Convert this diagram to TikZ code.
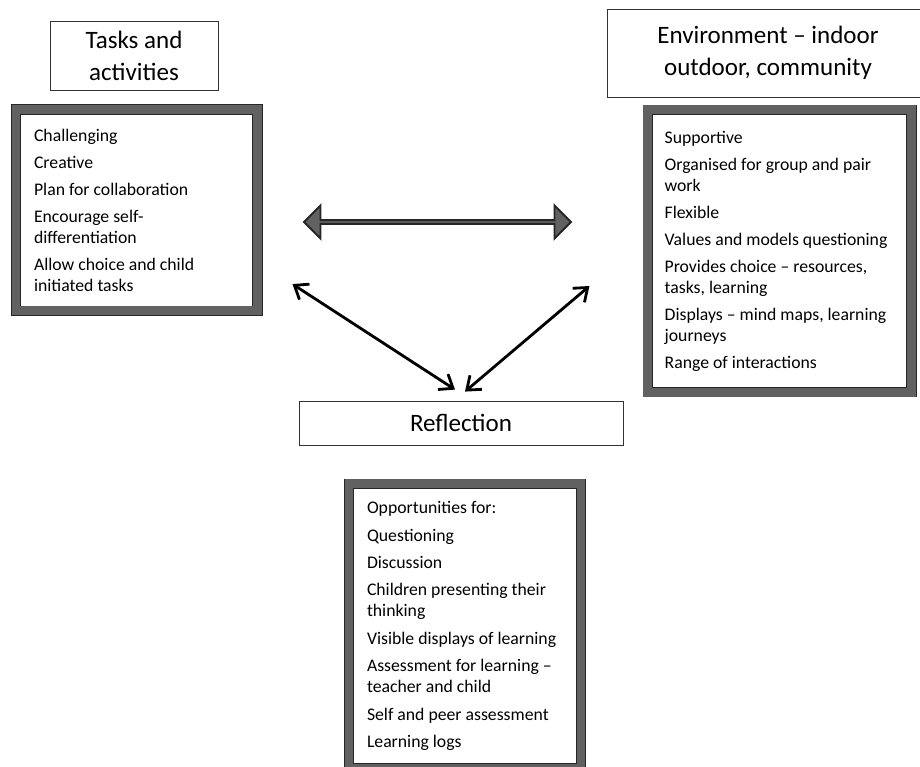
\documentclass[tikz,border=0pt]{standalone}
\usepackage{fontspec}
\setmainfont{Carlito}
\usetikzlibrary{arrows.meta,positioning,shapes.arrows,calc}

\begin{document}
\begin{tikzpicture}[
    font=\fontsize{12.6}{14.9}\selectfont,
    titlebox/.style={
      draw=black!80, line width=0.6pt, align=center, inner sep=2pt,
      font=\fontsize{17.8}{22.8}\selectfont
    },
    framebox/.style={
      draw=black!85, line width=0.6pt, double=black!62, double distance=0.22cm,
      fill=white, align=flush left, inner xsep=0.45cm, inner ysep=0pt
    },
    arr/.style={{Straight Barb[length=3mm,width=4.6mm]}-{Straight Barb[length=3mm,width=4.6mm]},
      line width=2pt}
  ]
    \useasboundingbox (0,0) rectangle (23,-19.175);

    \node[titlebox, minimum width=4.2cm, minimum height=1.725cm] (tasks) at (3.35,-1.3875)
      {Tasks and\\activities};
    \node[titlebox, minimum width=8.05cm, minimum height=2.2cm] (env) at (19.2,-1.325)
      {Environment -- indoor\\outdoor, community};
    \node[titlebox, minimum width=8.1cm, minimum height=1.1cm] (refl) at (11.525,-10.575)
      {Reflection};

    \node[framebox, text width=5.1375cm, minimum height=5.0375cm,
      below=0.4625cm of tasks, xshift=0.07cm] (tasklist)
      {Challenging\\[4.3pt]
       Creative\\[4.3pt]
       Plan for collaboration\\[4.3pt]
       Encourage self-\\differentiation\\[4.3pt]
       Allow choice and child\\initiated tasks};
    \node[framebox, inner xsep=0.42cm, text width=5.7475cm, minimum height=7.06cm,
      below=0.3cm of env, xshift=0.29cm] (envlist)
      {Supportive\\[4.3pt]
       Organised for group and pair\\work\\[4.3pt]
       Flexible\\[4.3pt]
       Values and models questioning\\[4.3pt]
       Provides choice -- resources,\\tasks, learning\\[4.3pt]
       Displays -- mind maps, learning\\journeys\\[4.3pt]
       Range of interactions};
    \node[framebox, text width=4.9cm, minimum height=7.11cm,
      below=0.95cm of refl, xshift=0.1cm] (refllist)
      {Opportunities for:\\[4.6pt]
       Questioning\\[4.6pt]
       Discussion\\[4.6pt]
       Children presenting their\\thinking\\[4.6pt]
       Visible displays of learning\\[4.6pt]
       Assessment for learning --\\teacher and child\\[4.6pt]
       Self and peer assessment\\[4.6pt]
       Learning logs};

    \node[double arrow, draw=black!85, line width=1.4pt, fill=black!62, inner sep=0pt,
      minimum height=6.675cm, minimum width=0.825cm, double arrow head extend=0.2cm]
      (link) at (10.9375,-5.55) {};

    \coordinate (tipa) at ($(tasklist.east)+(0.8625,-1.85)$);
    \coordinate (tipb) at ($(envlist.west)+(-1.45,-0.875)$);
    \coordinate (meeta) at ($(refl.north)+(-0.15,0.275)$);
    \coordinate (meetb) at ($(refl.north)+(0.1,0.225)$);
    \draw[arr] (tipa) -- (meeta);
    \draw[arr] (tipb) -- (meetb);
  \end{tikzpicture}
\end{document}
